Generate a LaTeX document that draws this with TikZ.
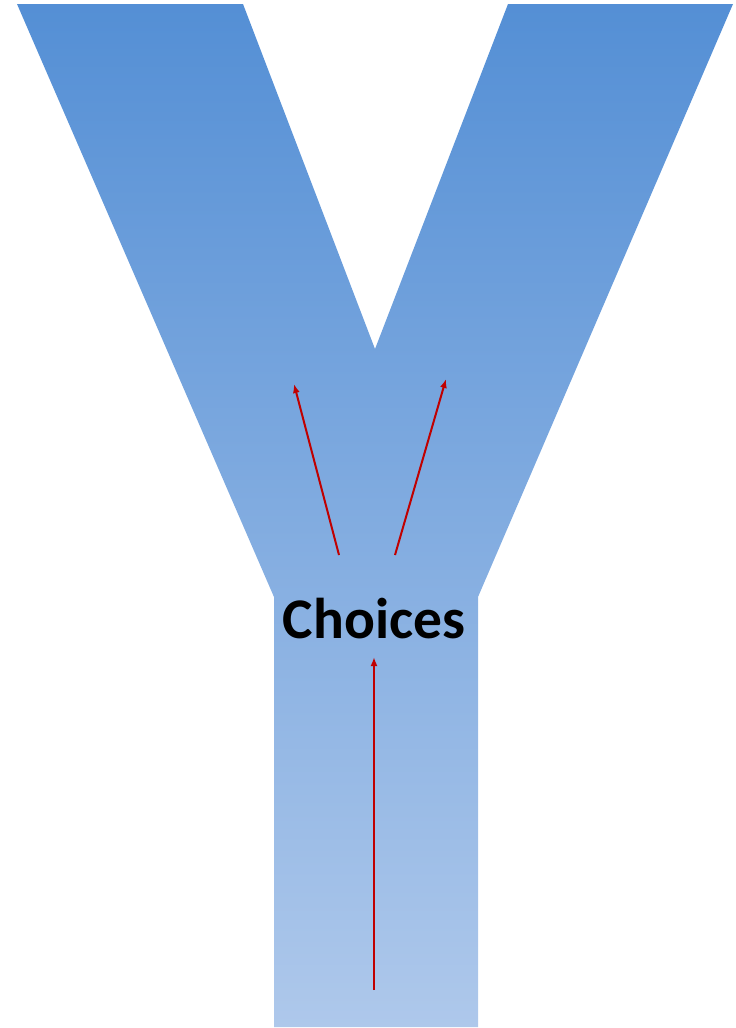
\documentclass[tikz,border=0pt]{standalone}
\usepackage{fontspec}
\setmainfont{Carlito}
\usepackage{tikz}
\usetikzlibrary{positioning,arrows.meta}

\definecolor{ytop}{RGB}{84,143,213}
\definecolor{ybot}{RGB}{174,200,235}
\definecolor{choicered}{RGB}{192,0,0}

\begin{document}
\begin{tikzpicture}[x=1pt, y=-1pt, >={Latex[length=9pt,width=7pt]},
  path/.style={draw=choicered, line width=2pt, ->},
  label/.style={font=\fontsize{57.5}{60}\selectfont\bfseries, inner sep=0pt}]
\useasboundingbox (0,0) rectangle (736,1028);
% the Y, shaded from top to bottom
\shade[top color=ytop, bottom color=ybot]
  (17,4) -- (243,4) -- (375,349) -- (508,4) -- (733,4) -- (478,597)
  -- (478,1027) -- (274,1027) -- (274,597) -- cycle;
\node[label] (choices) at (374,619) {Choices};
\coordinate (start) at (374,990);
\coordinate (lbase) at (339,555);
\coordinate (rbase) at (395,555);
\coordinate (lend) at (294,384);
\coordinate (rend) at (446,379);
\draw[path] (start) -- (choices.south |- 0,657);
\draw[path] (lbase) -- (lend);
\draw[path] (rbase) -- (rend);
\end{tikzpicture}
\end{document}
